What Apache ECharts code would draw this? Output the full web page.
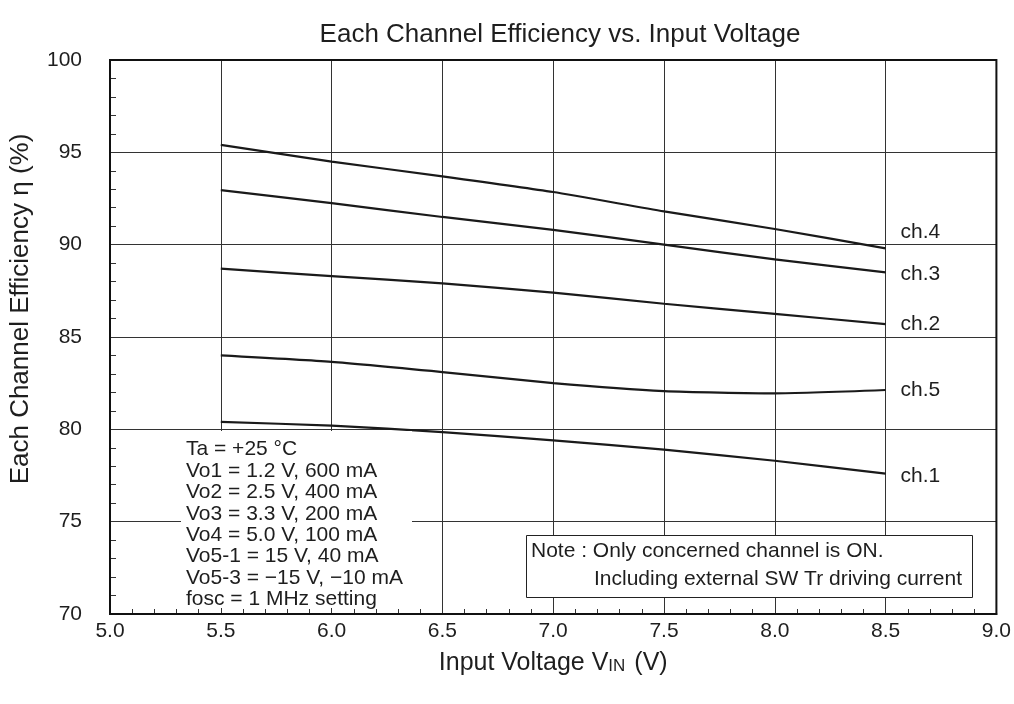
<!DOCTYPE html>
<html><head><meta charset="utf-8">
<script src="https://cdn.jsdelivr.net/npm/echarts@6/dist/echarts.min.js"></script>
<style>html,body{margin:0;padding:0;background:#fff}#c{width:1014px;height:704px}</style>
</head><body><div id="c"></div>
<script>
const vin = [5.5, 6.0, 6.5, 7.0, 7.5, 8.0, 8.5];
const ch4 = [95.4, 94.5, 93.7, 92.85, 91.8, 90.85, 89.8];
const ch3 = [92.95, 92.25, 91.5, 90.8, 90.0, 89.2, 88.5];
const ch2 = [88.7, 88.3, 87.9, 87.4, 86.8, 86.25, 85.7];
const ch5 = [84.0, 83.65, 83.1, 82.5, 82.07, 81.95, 82.13];
const ch1 = [80.4, 80.2, 79.85, 79.4, 78.9, 78.3, 77.6];
const seriesNames = ['ch.4', 'ch.3', 'ch.2', 'ch.5', 'ch.1'];
const seriesVals = [ch4, ch3, ch2, ch5, ch1];
const labelOffsets = [[7, -16], [7, 2], [7, 0], [7, 0], [7, 3]];
const conditions = ['Ta = +25 °C', 'Vo1 = 1.2 V, 600 mA', 'Vo2 = 2.5 V, 400 mA', 'Vo3 = 3.3 V, 200 mA',
  'Vo4 = 5.0 V, 100 mA', 'Vo5-1 = 15 V, 40 mA', 'Vo5-3 = \u221215 V, \u221210 mA', 'fosc = 1 MHz setting'];
const noteLines = ['Note : Only concerned channel is ON.', 'Including external SW Tr driving current'];

const FONT = 'Liberation Sans, Arial, sans-serif';
const TXT = '#1e1e1e';
const chart = echarts.init(document.getElementById('c'));
const series = seriesNames.map((n, i) => ({
  name: n, type: 'line', showSymbol: false, smooth: 0.2,
  data: vin.map((x, j) => [x, seriesVals[i][j]]),
  lineStyle: { color: '#1a1a1a', width: 2.2 },
  endLabel: { show: true, formatter: n, offset: labelOffsets[i], color: TXT, fontSize: 21, fontFamily: FONT },
  z: 3
}));
chart.setOption({
  animation: false,
  backgroundColor: '#fff',
  title: { text: 'Each Channel Efficiency vs. Input Voltage', left: 555, top: 17, textAlign: 'center',
    textStyle: { fontSize: 26, fontWeight: 'normal', color: TXT, fontFamily: FONT } },
  grid: { left: 110, right: 17, top: 60, bottom: 90, show: true, borderColor: '#111', borderWidth: 2, z: 5 },
  xAxis: {
    type: 'value', min: 5, max: 9, interval: 0.5,
    axisLine: { show: true, lineStyle: { color: '#111', width: 2 } },
    axisTick: { show: true, inside: true, length: 5, lineStyle: { color: '#333' } },
    minorTick: { show: true, splitNumber: 5, length: 5, lineStyle: { color: '#333', width: 1 } },
    splitLine: { show: true, lineStyle: { color: '#333', width: 1 } },
    axisLabel: { fontSize: 21, color: TXT, margin: 7, fontFamily: FONT, formatter: v => v.toFixed(1) },
    name: 'Input Voltage V{sub|IN} (V)', nameLocation: 'middle', nameGap: 37,
    nameTextStyle: { fontSize: 25, color: TXT, fontFamily: FONT,
      rich: { sub: { fontSize: 17, color: TXT, fontFamily: FONT, padding: [5, 2, 0, 0] } } }
  },
  yAxis: {
    type: 'value', min: 70, max: 100, interval: 5,
    axisLine: { show: true, lineStyle: { color: '#111', width: 2 } },
    axisTick: { show: true, inside: true, length: 5, lineStyle: { color: '#333' } },
    minorTick: { show: true, splitNumber: 5, length: 6, lineStyle: { color: '#333', width: 1 } },
    splitLine: { show: true, lineStyle: { color: '#333', width: 1 } },
    axisLabel: { fontSize: 21, color: TXT, margin: 28, fontFamily: FONT },
    name: 'Each Channel Efficiency \u03b7 (%)', nameLocation: 'middle', nameGap: 76,
    nameTextStyle: { fontSize: 26, color: TXT, fontFamily: FONT, padding: [0, 0, 0, 56] }
  },
  series: series,
  graphic: [
    { type: 'rect', z: 10, shape: { x: 181, y: 431, width: 231, height: 177 }, style: { fill: '#fff' } },
    { type: 'text', z: 11, left: 186, top: 439, style: { text: conditions.join('\n'), fontSize: 21, lineHeight: 21.4, fill: TXT, fontFamily: FONT } },
    { type: 'rect', z: 10, shape: { x: 526.5, y: 535.5, width: 446, height: 62 }, style: { fill: '#fff', stroke: '#222', lineWidth: 1 } },
    { type: 'text', z: 11, left: 531, top: 541, style: { text: noteLines[0], fontSize: 21, fill: TXT, fontFamily: FONT } },
    { type: 'text', z: 11, left: 594, top: 569, style: { text: noteLines[1], fontSize: 21, fill: TXT, fontFamily: FONT } }
  ]
});
</script></body></html>
